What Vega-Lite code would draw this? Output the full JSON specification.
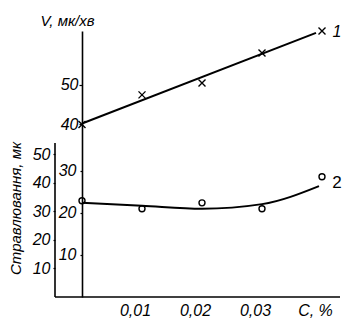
{
  "$schema": "https://vega.github.io/schema/vega-lite/v6.json",
  "autosize": {"type": "none"},
  "width": 258,
  "height": 266,
  "padding": {"left": 82, "top": 31, "right": 2, "bottom": 30},
  "background": "white",
  "config": {
    "view": {"stroke": null},
    "font": "Liberation Sans",
    "axis": {
      "grid": false,
      "labelColor": "black",
      "titleColor": "black",
      "domainColor": "black",
      "tickColor": "black",
      "domainWidth": 1.6,
      "tickWidth": 1.2,
      "labelFont": "Liberation Sans",
      "titleFont": "Liberation Sans",
      "labelFontStyle": "italic",
      "titleFontStyle": "italic",
      "labelFontSize": 16,
      "titleFontSize": 15,
      "titleFontWeight": "normal"
    }
  },
  "datasets": {
    "fit1": [{"c": 0, "v": 40.25}, {"c": 0.039, "v": 63.2}],
    "pts1": [
      {"c": 0, "v": 40.0},
      {"c": 0.01, "v": 47.5},
      {"c": 0.02, "v": 50.5},
      {"c": 0.03, "v": 58.1},
      {"c": 0.04, "v": 63.7}
    ],
    "lab1": [{"c": 0.0425, "v": 63.3, "t": "1"}],
    "fit2": [
      {"c": 0, "s": 22.4},
      {"c": 0.01, "s": 21.7},
      {"c": 0.02, "s": 21.0},
      {"c": 0.03, "s": 22.1},
      {"c": 0.0395, "s": 26.4}
    ],
    "pts2": [
      {"c": 0, "s": 22.9},
      {"c": 0.01, "s": 21.0},
      {"c": 0.02, "s": 22.4},
      {"c": 0.03, "s": 21.0},
      {"c": 0.04, "s": 28.6}
    ],
    "lab2": [{"c": 0.0425, "s": 27.1, "t": "2"}],
    "frame": [
      {"c": -0.0045, "c2": -0.0045, "o": 0, "o2": 54},
      {"c": -0.0045, "c2": 0.043, "o": 0, "o2": 0}
    ]
  },
  "encoding": {
    "x": {
      "field": "c",
      "type": "quantitative",
      "scale": {"domain": [0, 0.043], "nice": false, "zero": false},
      "axis": {
        "values": [0.01, 0.02, 0.03, 0.04],
        "labelExpr": "datum.value > 0.035 ? 'C, %' : replace(format(datum.value, '.2f'), '.', ',')",
        "labelOffset": -7,
        "ticks": false,
        "domain": false,
        "labelPadding": 5,
        "title": null
      }
    }
  },
  "layer": [
    {
      "encoding": {
        "y": {
          "field": "v",
          "type": "quantitative",
          "scale": {"domain": [-3.67, 63.67], "nice": false, "zero": false},
          "axis": {
            "values": [40, 50],
            "tickSize": 3,
            "labelPadding": 1,
            "labelBaseline": "middle",
            "title": "V, мк/хв",
            "titleAngle": 0,
            "titleX": -15,
            "titleY": -11,
            "titleAlign": "center",
            "titleBaseline": "middle"
          }
        }
      },
      "layer": [
        {"data": {"name": "fit1"}, "mark": {"type": "line", "color": "black", "strokeWidth": 2}},
        {"data": {"name": "pts1"}, "mark": {"type": "point", "shape": "M-1,-1L1,1M-1,1L1,-1", "size": 49, "filled": false, "color": "black", "strokeWidth": 1.4, "opacity": 1}},
        {"data": {"name": "lab1"}, "mark": {"type": "text", "font": "Liberation Sans", "fontStyle": "italic", "fontSize": 16, "color": "black"}, "encoding": {"text": {"field": "t"}}}
      ]
    },
    {
      "encoding": {
        "y": {
          "field": "s",
          "type": "quantitative",
          "scale": {"domain": [0, 63.3], "nice": false, "zero": false},
          "axis": {
            "orient": "left",
            "values": [10, 20, 30],
            "domain": false,
            "tickSize": 2,
            "labelPadding": 4,
            "title": null
          }
        }
      },
      "layer": [
        {"data": {"name": "fit2"}, "mark": {"type": "line", "color": "black", "strokeWidth": 2, "interpolate": "monotone"}},
        {"data": {"name": "pts2"}, "mark": {"type": "point", "shape": "circle", "size": 36, "filled": false, "color": "black", "strokeWidth": 1.4, "opacity": 1}},
        {"data": {"name": "lab2"}, "mark": {"type": "text", "font": "Liberation Sans", "fontSize": 17, "color": "black"}, "encoding": {"text": {"field": "t"}}}
      ]
    },
    {
      "data": {"name": "frame"},
      "mark": {"type": "rule", "color": "black", "strokeWidth": 1.6},
      "encoding": {
        "x2": {"field": "c2"},
        "y": {
          "field": "o",
          "type": "quantitative",
          "scale": {"domain": [0, 93.3], "nice": false, "zero": false},
          "axis": {
            "orient": "left",
            "offset": 27,
            "values": [10, 20, 30, 40, 50],
            "domain": false,
            "tickSize": 2,
            "labelPadding": 3,
            "title": "Стравлювання, мк",
            "titleAngle": -90,
            "titleX": -40,
            "titleY": 177,
            "titleAlign": "center",
            "titleBaseline": "middle",
            "titleFontSize": 15
          }
        },
        "y2": {"field": "o2"}
      }
    }
  ],
  "resolve": {"scale": {"y": "independent"}}
}
